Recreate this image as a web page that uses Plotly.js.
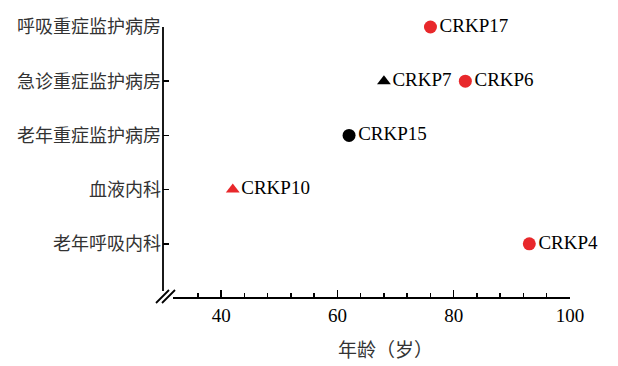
<!DOCTYPE html>
<html>
<head>
<meta charset="utf-8">
<script src="https://cdn.plot.ly/plotly-3.0.1.min.js"></script>
<style>html,body{margin:0;padding:0;background:#fff;}#chart{width:618px;height:366px;}</style>
</head>
<body>
<div id="chart"></div>
<script>
// Data
const wards = ["老年呼吸内科", "血液内科", "老年重症监护病房", "急诊重症监护病房", "呼吸重症监护病房"];
const strains = ["CRKP17", "CRKP7", "CRKP6", "CRKP15", "CRKP10", "CRKP4"];
const strainAges = [76, 68, 82, 62, 42, 93];
const strainWards = ["呼吸重症监护病房", "急诊重症监护病房", "急诊重症监护病房", "老年重症监护病房", "血液内科", "老年呼吸内科"];
const strainGroup = ["A", "B", "A", "C", "D", "A"];
const xMajorTicks = [40, 60, 80, 100];
const xMinorTicks = [36, 44, 48, 52, 56, 64, 68, 72, 76, 84, 88, 92, 96];

// Styles per group
const groupStyle = {
  A: {symbol: "circle", color: "#e8282b"},
  B: {symbol: "triangle-up", color: "#000000"},
  C: {symbol: "circle", color: "#000000"},
  D: {symbol: "triangle-up", color: "#e8282b"}
};

const SERIF_FONT = "Liberation Serif";
const CJK_FONT = "Noto Sans CJK SC";

const traces = Object.keys(groupStyle).map(g => {
  const idx = strains.map((s, i) => i).filter(i => strainGroup[i] === g);
  return {
    type: "scatter",
    mode: "markers+text",
    x: idx.map(i => strainAges[i]),
    y: idx.map(i => strainWards[i]),
    text: idx.map(i => strains[i]),
    textposition: "middle right",
    textfont: {family: SERIF_FONT, size: 19, color: "#000"},
    marker: {symbol: groupStyle[g].symbol, color: groupStyle[g].color, size: groupStyle[g].symbol === "circle" ? 13 : 12},
    cliponaxis: false,
    hoverinfo: "skip",
    showlegend: false
  };
});

const L = 163, R = 570, T = 27, B = 298;
const px = v => (v - L) / (R - L);
const py = v => (B - v) / (B - T);
const lineStyle = {color: "#000", width: 1.8};

const layout = {
  width: 618, height: 366,
  font: {family: SERIF_FONT, color: "#000"},
  margin: {l: L, r: 618 - R, t: T, b: 366 - B},
  paper_bgcolor: "#fff", plot_bgcolor: "#fff",
  showlegend: false,
  xaxis: {
    range: [30, 100],
    showline: false, zeroline: false, showgrid: false,
    tickmode: "array", tickvals: xMajorTicks, ticktext: xMajorTicks.map(String),
    ticks: "inside", ticklen: 8, tickwidth: 1.5, tickcolor: "#000",
    tickfont: {family: SERIF_FONT, size: 19, color: "#000"},
    ticklabelstandoff: 4,
    minor: {tickmode: "array", tickvals: xMinorTicks, ticks: "inside", ticklen: 5, tickwidth: 1.5, tickcolor: "#000", showgrid: false},
    fixedrange: true
  },
  yaxis: {
    type: "category", categoryorder: "array", categoryarray: wards,
    range: [-1, 4],
    showline: false, zeroline: false, showgrid: false,
    ticks: "inside", ticklen: 6, tickwidth: 1.5, tickcolor: "#000",
    tickfont: {family: CJK_FONT, size: 18, color: "#333"},
    ticklabelstandoff: 1,
    fixedrange: true
  },
  shapes: [
    {type: "line", xref: "paper", yref: "paper", x0: 0, x1: 0, y0: py(291), y1: 1, line: lineStyle},
    {type: "line", xref: "paper", yref: "paper", x0: px(173), x1: 1, y0: 0, y1: 0, line: lineStyle},
    {type: "line", xref: "paper", yref: "paper", x0: px(156), x1: px(169), y0: py(303), y1: py(290), line: lineStyle},
    {type: "line", xref: "paper", yref: "paper", x0: px(162), x1: px(175), y0: py(303), y1: py(290), line: lineStyle}
  ],
  annotations: [
    {text: "年龄（岁）", xref: "paper", yref: "paper", x: px(385), y: py(348), xanchor: "center", yanchor: "middle",
     showarrow: false, font: {family: CJK_FONT, size: 19, color: "#333"}}
  ]
};

Plotly.newPlot("chart", traces, layout, {displayModeBar: false, staticPlot: true});
</script>
</body>
</html>
